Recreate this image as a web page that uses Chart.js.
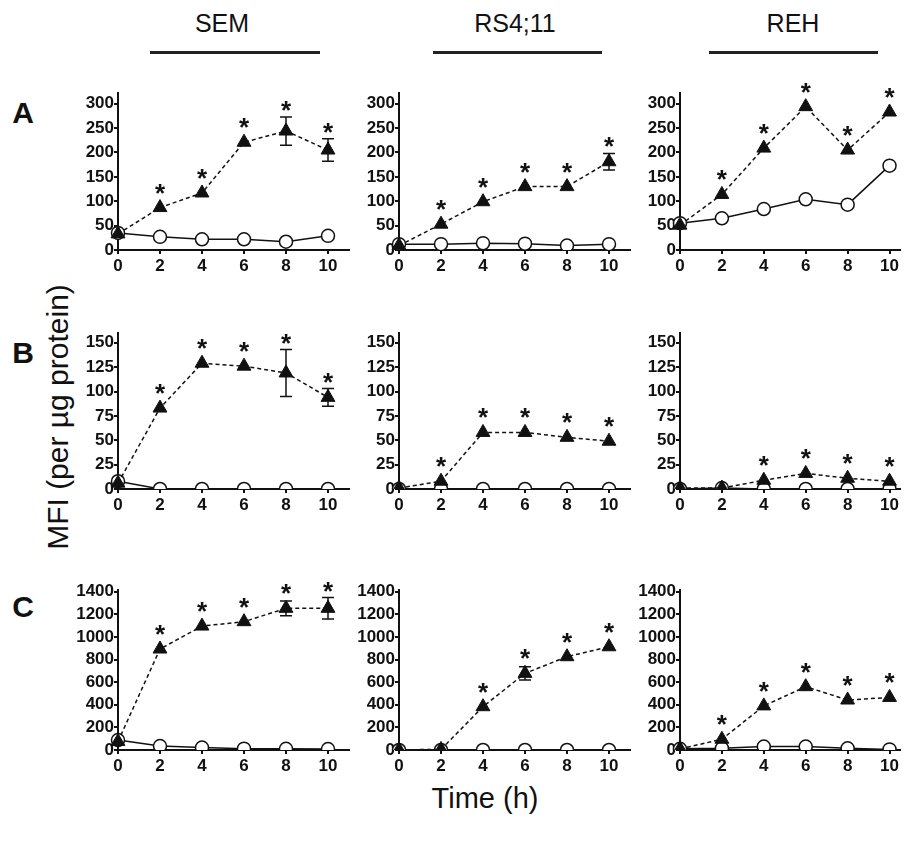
<!DOCTYPE html>
<html>
<head>
<meta charset="utf-8">
<script src="https://cdn.jsdelivr.net/npm/chart.js@4.4.0/dist/chart.umd.min.js"></script>
<style>
  body { margin: 0; background: #fff; font-family: "Liberation Sans", Arial, sans-serif; }
  #fig { position: relative; width: 909px; height: 841px; overflow: hidden; }
  canvas { position: absolute; }
  .txt { position: absolute; color: #111; white-space: nowrap; line-height: 1; transform: translate(-50%, -50%); }
  .bar { position: absolute; height: 3px; background: #222; }
</style>
</head>
<body>
<div id="fig">
  <div class="txt" style="left:222px; top:23px; font-size:25px;">SEM</div>
  <div class="txt" style="left:515px; top:23px; font-size:25px;">RS4;11</div>
  <div class="txt" style="left:793px; top:23px; font-size:25px;">REH</div>
  <div class="bar" style="left:150px; top:51px; width:170px;"></div>
  <div class="bar" style="left:433px; top:51px; width:169px;"></div>
  <div class="bar" style="left:709px; top:51px; width:169px;"></div>

  <div class="txt" style="left:23px; top:113px; font-size:30px; font-weight:bold;">A</div>
  <div class="txt" style="left:23px; top:353px; font-size:30px; font-weight:bold;">B</div>
  <div class="txt" style="left:23px; top:607px; font-size:30px; font-weight:bold;">C</div>

  <div class="txt" style="left:58px; top:417px; font-size:30px; transform: translate(-50%, -50%) rotate(-90deg);">MFI (per µg protein)</div>
  <div class="txt" style="left:485px; top:798px; font-size:29px;">Time (h)</div>
</div>

<script>
// tempos (h)
var hours = [0, 2, 4, 6, 8, 10];

// tick labels do eixo y por linha
var ticksA = [0, 50, 100, 150, 200, 250, 300];
var ticksB = [0, 25, 50, 75, 100, 125, 150];
var ticksC = [0, 200, 400, 600, 800, 1000, 1200, 1400];

// linha A
var semA_tri = [33, 87, 117, 221, 244, 205];
var semA_err = [0, 0, 0, 0, 29, 23];
var semA_circ = [35, 27, 22, 22, 17, 29];
var semA_star = [0, 1, 1, 1, 1, 1];

var rsA_tri = [9, 53, 99, 130, 130, 181];
var rsA_err = [0, 0, 0, 0, 0, 17];
var rsA_circ = [12, 12, 14, 13, 9, 12];
var rsA_star = [0, 1, 1, 1, 1, 1];

var rehA_tri = [51, 114, 209, 294, 205, 283];
var rehA_err = [0, 0, 0, 0, 0, 0];
var rehA_circ = [55, 65, 84, 104, 93, 173];
var rehA_star = [0, 1, 1, 1, 1, 1];

// linha B
var semB_tri = [6, 83, 129, 126, 119, 94];
var semB_err = [0, 0, 0, 0, 24, 9];
var semB_circ = [8, 0, 0, 0, 0, 0];
var semB_star = [0, 1, 1, 1, 1, 1];

var rsB_tri = [1, 8, 58, 58, 53, 49];
var rsB_err = [0, 0, 0, 0, 0, 0];
var rsB_circ = [0, 0, 0, 0, 0, 0];
var rsB_star = [0, 1, 1, 1, 1, 1];

var rehB_tri = [1, 1, 9, 16, 11, 8];
var rehB_err = [0, 0, 0, 0, 0, 0];
var rehB_circ = [0, 1, 0, 0, 0, 0];
var rehB_star = [0, 0, 1, 1, 1, 1];

// linha C
var semC_tri = [75, 893, 1096, 1135, 1253, 1253];
var semC_err = [0, 0, 0, 0, 65, 95];
var semC_circ = [88, 35, 22, 12, 10, 8];
var semC_star = [0, 1, 1, 1, 1, 1];

var rsC_tri = [2, 5, 383, 678, 825, 913];
var rsC_err = [0, 0, 0, 58, 0, 0];
var rsC_circ = [0, 0, 0, 0, 0, 0];
var rsC_star = [0, 0, 1, 1, 1, 1];

var rehC_tri = [10, 95, 390, 560, 442, 465];
var rehC_err = [0, 0, 0, 0, 0, 0];
var rehC_circ = [10, 15, 30, 30, 15, 5];
var rehC_star = [0, 1, 1, 1, 1, 1];

//paineis: dados + posicao na figura
var panels = [
  { tri: semA_tri, err: semA_err, circ: semA_circ, star: semA_star, ticks: ticksA, yMax: 322, xMax: 11, left: 118, top: 93, w: 236, h: 157 },
  { tri: rsA_tri, err: rsA_err, circ: rsA_circ, star: rsA_star, ticks: ticksA, yMax: 322, xMax: 11, left: 399, top: 93, w: 236, h: 157 },
  { tri: rehA_tri, err: rehA_err, circ: rehA_circ, star: rehA_star, ticks: ticksA, yMax: 322, xMax: 10.5, left: 680, top: 93, w: 225, h: 157 },
  { tri: semB_tri, err: semB_err, circ: semB_circ, star: semB_star, ticks: ticksB, yMax: 160, xMax: 11, left: 118, top: 333, w: 236, h: 156 },
  { tri: rsB_tri, err: rsB_err, circ: rsB_circ, star: rsB_star, ticks: ticksB, yMax: 160, xMax: 11, left: 399, top: 333, w: 236, h: 156 },
  { tri: rehB_tri, err: rehB_err, circ: rehB_circ, star: rehB_star, ticks: ticksB, yMax: 160, xMax: 10.5, left: 680, top: 333, w: 225, h: 156 },
  { tri: semC_tri, err: semC_err, circ: semC_circ, star: semC_star, ticks: ticksC, yMax: 1415, xMax: 11, left: 118, top: 590, w: 236, h: 160 },
  { tri: rsC_tri, err: rsC_err, circ: rsC_circ, star: rsC_star, ticks: ticksC, yMax: 1415, xMax: 11, left: 399, top: 590, w: 236, h: 160 },
  { tri: rehC_tri, err: rehC_err, circ: rehC_circ, star: rehC_star, ticks: ticksC, yMax: 1415, xMax: 10.5, left: 680, top: 590, w: 225, h: 160 }
];

var Y_W = 60, X_H = 30, PAD_TOP = 25;

//barras de erro e asteriscos
var marks = {
  id: 'marks',
  afterDatasetsDraw: function(chart, args, opts) {
    var ctx = chart.ctx, xs = chart.scales.x, ys = chart.scales.y;
    ctx.save();
    ctx.strokeStyle = '#111';
    ctx.lineWidth = 1.5;
    opts.tri.forEach(function(v, i) {
      var px = xs.getPixelForValue(hours[i]);
      var py = ys.getPixelForValue(v);
      var starY = py - 21;
      if (opts.err[i] > 0) {
        var t = ys.getPixelForValue(v + opts.err[i]);
        var b = ys.getPixelForValue(v - opts.err[i]);
        ctx.beginPath();
        ctx.moveTo(px, t); ctx.lineTo(px, b);
        ctx.moveTo(px - 6, t); ctx.lineTo(px + 6, t);
        ctx.moveTo(px - 6, b); ctx.lineTo(px + 6, b);
        ctx.stroke();
        starY = Math.min(starY, t - 13);
      }
      if (opts.star[i]) {
        ctx.fillStyle = '#111';
        ctx.font = 'bold 26px "Liberation Sans", Arial, sans-serif';
        ctx.textAlign = 'center';
        ctx.textBaseline = 'alphabetic';
        ctx.fillText('*', px, starY + 15);
      }
    });
    ctx.restore();
  }
};

var fig = document.getElementById('fig');

panels.forEach(function(p) {
  var cv = document.createElement('canvas');
  cv.width = Y_W + p.w + 4;
  cv.height = PAD_TOP + p.h + X_H;
  cv.style.left = (p.left - Y_W) + 'px';
  cv.style.top = (p.top - PAD_TOP) + 'px';
  fig.appendChild(cv);

  var tickFont = { family: '"Liberation Sans", Arial, sans-serif', size: 17, weight: 'bold' };

  new Chart(cv.getContext('2d'), {
    type: 'line',
    data: {
      labels: hours,
      datasets: [{
        // tratado (triangulos, tracejado)
        data: p.tri.map(function(v, i) { return { x: hours[i], y: v }; }),
        borderColor: '#111',
        borderWidth: 1.5,
        borderDash: [4, 3],
        pointStyle: 'triangle',
        pointRadius: 8,
        pointBackgroundColor: '#111',
        pointBorderColor: '#111',
        pointBorderWidth: 1,
        tension: 0,
        clip: { left: 12, top: 40, right: 12, bottom: 0 }
      }, {
        // controle (circulos abertos)
        data: p.circ.map(function(v, i) { return { x: hours[i], y: v }; }),
        borderColor: '#111',
        borderWidth: 1.5,
        pointStyle: 'circle',
        pointRadius: 6.5,
        pointBackgroundColor: '#fff',
        pointBorderColor: '#111',
        pointBorderWidth: 1.5,
        tension: 0,
        clip: { left: 12, top: 40, right: 12, bottom: 0 }
      }]
    },
    options: {
      responsive: false,
      animation: false,
      layout: { padding: { left: 0, top: PAD_TOP, right: 4, bottom: 0 } },
      plugins: {
        legend: { display: false },
        tooltip: { enabled: false },
        marks: { tri: p.tri, err: p.err, star: p.star }
      },
      scales: {
        x: {
          type: 'linear',
          min: 0,
          max: p.xMax,
          afterBuildTicks: function(s) { s.ticks = hours.map(function(v) { return { value: v }; }); },
          afterFit: function(s) { s.height = X_H; },
          grid: { drawOnChartArea: false, tickLength: 4, color: '#111', lineWidth: 2 },
          border: { color: '#111', width: 2 },
          ticks: { color: '#111', font: tickFont, padding: 2, maxRotation: 0, autoSkip: false,
                   callback: function(v) { return String(v); } }
        },
        y: {
          min: 0,
          max: p.yMax,
          afterBuildTicks: function(s) { s.ticks = p.ticks.map(function(v) { return { value: v }; }); },
          afterFit: function(s) { s.width = Y_W; },
          grid: { drawOnChartArea: false, tickLength: 4, color: '#111', lineWidth: 2 },
          border: { color: '#111', width: 2 },
          ticks: { color: '#111', font: tickFont, padding: 0, autoSkip: false,
                   callback: function(v) { return String(v); } }
        }
      }
    },
    plugins: [marks]
  });
});
</script>
</body>
</html>
